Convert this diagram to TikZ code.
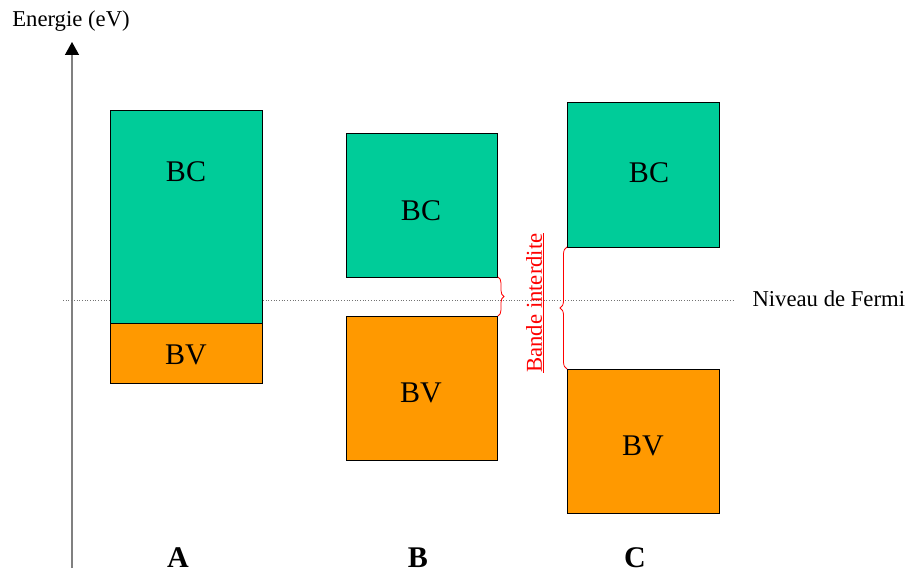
\documentclass[tikz,border=0pt]{standalone}
\usepackage{fontspec}
\setmainfont{Liberation Serif}
\usetikzlibrary{arrows.meta,decorations.pathreplacing}

\definecolor{bandgreen}{RGB}{0,204,153}
\definecolor{bandorange}{RGB}{255,153,0}
\definecolor{gapred}{RGB}{255,0,0}

\tikzset{
  bcband/.style={fill=bandgreen, draw=black, line width=0.9pt},
  bvband/.style={fill=bandorange, draw=black, line width=0.9pt},
  bandlabel/.style={font=\fontsize{30}{34}\selectfont},
  smalllabel/.style={font=\fontsize{22.7}{26}\selectfont},
  caselabel/.style={font=\fontsize{30}{34}\selectfont\bfseries},
  gapbrace/.style={draw=gapred, line width=0.8pt, decorate,
    decoration={brace, amplitude=7pt}}
}

\begin{document}
\begin{tikzpicture}[x=1pt, y=-1pt]
  \useasboundingbox (0,0) rectangle (906,575);

  % Energy axis
  \coordinate (base) at (72,568);
  \coordinate (top) at (72,42);
  \draw[black!50, line width=1.4pt, -{Triangle[length=13pt, width=14pt, color=black]}] (base) -- (top);
  \node[smalllabel] (energy) at (71,21) {Energie (eV)};

  % Fermi level
  \coordinate (fermiL) at (63,300);
  \coordinate (fermiR) at (735,300);
  \draw[black!55, dotted, line width=0.7pt] (fermiL) -- (fermiR);
  \node[smalllabel, anchor=west] (fermi) at (749,299) {Niveau de Fermi};

  % Case A : overlapping bands
  \draw[bcband] (110,110) rectangle (262,323);
  \draw[bvband] (110,323) rectangle (262,383);
  \node[bandlabel] (bcA) at (186,172) {BC};
  \node[bandlabel] (bvA) at (186,355) {BV};

  % Case B : small gap
  \draw[bcband] (346,133) rectangle (497,277);
  \draw[bvband] (346,316) rectangle (497,460);
  \node[bandlabel] (bcB) at (421,211) {BC};
  \node[bandlabel] (bvB) at (421,393) {BV};

  % Case C : wide gap
  \draw[bcband] (567,102) rectangle (719,247);
  \draw[bvband] (567,369) rectangle (719,513);
  \node[bandlabel] (bcC) at (649,173) {BC};
  \node[bandlabel] (bvC) at (643,446) {BV};

  % Gap braces
  \coordinate (gapBtop) at (498,277);
  \coordinate (gapBbot) at (498,316);
  \coordinate (gapCtop) at (567,247);
  \coordinate (gapCbot) at (567,369);
  \draw[gapbrace, decoration={amplitude=6pt}] (gapBtop) -- (gapBbot);
  \draw[gapbrace] (gapCbot) -- (gapCtop);
  \node[smalllabel, text=gapred, rotate=90] (gap) at (535,303) {\underline{Bande interdite}};

  % Case labels
  \node[caselabel] (A) at (178,558) {A};
  \node[caselabel] (B) at (418,558) {B};
  \node[caselabel] (C) at (635,558) {C};
\end{tikzpicture}
\end{document}
